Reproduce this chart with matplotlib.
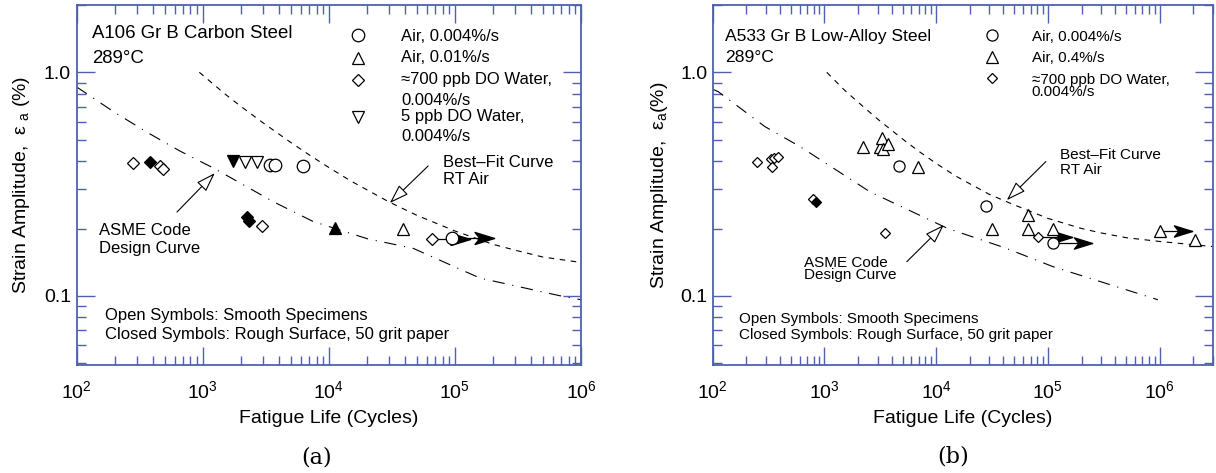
import matplotlib
matplotlib.use("Agg")
import matplotlib.pyplot as plt
from matplotlib.path import Path
from matplotlib.ticker import FixedLocator, FixedFormatter, LogLocator, NullFormatter

plt.rcParams["font.family"] = ["Liberation Sans", "DejaVu Sans"]
plt.rcParams["mathtext.fontset"] = "custom"
plt.rcParams["mathtext.rm"] = "Liberation Sans"
plt.rcParams["mathtext.it"] = "Liberation Sans:italic"

AXIS_BLUE = "#4f60b4"

# ---------------- (a) A106 Gr B carbon steel, 289C ----------------
a_air_slow_n = [3420, 3740, 6240, 94800]
a_air_slow_e = [0.385, 0.385, 0.381, 0.182]
a_air_fast_n = [39000]
a_air_fast_e = [0.200]
a_air_fast_rough_n = [11200]
a_air_fast_rough_e = [0.202]
a_do700_n = [280, 458, 484, 2960, 65800]
a_do700_e = [0.393, 0.381, 0.370, 0.206, 0.180]
a_do700_rough_n = [382, 2240, 2330]
a_do700_rough_e = [0.397, 0.226, 0.217]
a_do5_n = [2160, 2690]
a_do5_e = [0.397, 0.397]
a_do5_rough_n = [1740]
a_do5_rough_e = [0.400]
# run-outs: start life, life at arrow tip, strain
a_runout_start = [65800, 94800]
a_runout_end = [132000, 204000]
a_runout_e = [0.180, 0.182]

a_fit_n = [940, 1500, 2000, 3000, 5000, 7000, 1e4, 1.5e4, 3e4, 5e4, 1e5, 2e5, 3e5, 5e5, 1e6]
a_fit_e = [1.0, 0.80, 0.705, 0.595, 0.485, 0.427, 0.375, 0.326, 0.263, 0.229, 0.195,
           0.170, 0.160, 0.149, 0.141]
a_asme_n = [100, 195, 362, 661, 1250, 3610, 7500, 20200, 46700, 158000, 682000, 1e6]
a_asme_e = [0.86, 0.668, 0.539, 0.444, 0.370, 0.264, 0.215, 0.180, 0.163, 0.120, 0.100, 0.096]

# ---------------- (b) A533 Gr B low-alloy steel, 289C ----------------
b_air_slow_n = [4620, 28100, 111000]
b_air_slow_e = [0.382, 0.253, 0.173]
b_air_fast_n = [2210, 3170, 3262, 3336, 3715, 6870, 31300, 66500, 66500, 111000, 1.0e6, 2.07e6]
b_air_fast_e = [0.465, 0.465, 0.510, 0.452, 0.478, 0.378, 0.200, 0.230, 0.200, 0.200, 0.194, 0.178]
b_do700_n = [247, 330, 354, 381, 342, 785, 3450, 81500]
b_do700_e = [0.398, 0.408, 0.412, 0.417, 0.378, 0.270, 0.190, 0.183]
b_do700_rough_n = [843]
b_do700_rough_e = [0.264]
b_runout_start = [81500, 111000, 1.0e6]
b_runout_end = [164000, 247000, 1.95e6]
b_runout_e = [0.183, 0.173, 0.194]

b_fit_n = [1050, 1500, 2000, 3000, 5000, 7000, 1e4, 1.5e4, 3e4, 5e4, 1e5, 2e5, 3e5, 5e5, 1e6, 3e6]
b_fit_e = [1.0, 0.835, 0.735, 0.617, 0.503, 0.443, 0.391, 0.343, 0.284, 0.255, 0.222,
           0.200, 0.191, 0.182, 0.175, 0.166]
b_asme_n = [100, 112, 294, 605, 2550, 12700, 41100, 111000, 964000]
b_asme_e = [0.84, 0.819, 0.571, 0.465, 0.292, 0.200, 0.164, 0.135, 0.096]

# filled "stealth" head used for run-out arrows (tip at the data point)
stealth = Path([(0, 0), (-2, 0.62), (-1.5, 0), (-2, -0.62), (0, 0)],
               [Path.MOVETO, Path.LINETO, Path.LINETO, Path.LINETO, Path.CLOSEPOLY])

fig = plt.figure(figsize=(12.16, 4.73), dpi=100)
ax_a = fig.add_axes([0.063, 0.2283, 0.4148, 0.7611])
ax_b = fig.add_axes([0.5861, 0.2283, 0.4114, 0.7611])


def style_axes(ax, xmax):
    ax.set_xscale("log")
    ax.set_yscale("log")
    ax.set_xlim(1e2, xmax)
    ax.set_ylim(0.049, 2.0)
    ax.xaxis.set_major_locator(LogLocator(base=10))
    ax.xaxis.set_minor_locator(LogLocator(base=10, subs=range(2, 10), numticks=20))
    ax.xaxis.set_minor_formatter(NullFormatter())
    ax.yaxis.set_major_locator(FixedLocator([0.1, 1.0]))
    ax.yaxis.set_major_formatter(FixedFormatter(["0.1", "1.0"]))
    ax.yaxis.set_minor_locator(FixedLocator([0.05, 0.06, 0.07, 0.08, 0.09, 0.2, 0.3, 0.4,
                                             0.5, 0.6, 0.7, 0.8, 0.9, 2.0]))
    ax.yaxis.set_minor_formatter(NullFormatter())
    ax.tick_params(which="both", direction="in", top=True, right=True,
                   color=AXIS_BLUE, labelsize=14)
    ax.tick_params(which="major", length=13, width=1.0)
    ax.tick_params(which="minor", length=6.5, width=1.0)
    ax.tick_params(axis="x", pad=11)
    ax.tick_params(axis="y", pad=4)
    for sp in ax.spines.values():
        sp.set_color(AXIS_BLUE)
        sp.set_linewidth(1.3)
    ax.set_xlabel("Fatigue Life (Cycles)", fontsize=14)
    ax.xaxis.set_label_coords(0.5, -0.125)


def lines_text(ax, x, y, lines, step, size):
    for i, s in enumerate(lines):
        ax.text(x, y - i * step, s, transform=ax.transAxes, fontsize=size, va="baseline")


def open_pts(ax, n, e, marker, ms):
    ax.plot(n, e, ls="none", marker=marker, ms=ms, mfc="white", mec="black", mew=0.9)


def filled_pts(ax, n, e, marker, ms):
    ax.plot(n, e, ls="none", marker=marker, ms=ms, mfc="black", mec="black", mew=0.9)


def runouts(ax, n0, n1, e, head):
    for a, b, y in zip(n0, n1, e):
        ax.plot([a, b], [y, y], color="black", lw=0.9)
        ax.plot([b], [y], ls="none", marker=stealth, ms=head, color="black")


def pointer(ax, start, tip):
    ax.annotate("", xy=tip, xytext=start, xycoords="axes fraction",
                textcoords="axes fraction",
                arrowprops=dict(arrowstyle="-|>,head_length=1.2,head_width=0.4",
                                fc="white", ec="black", lw=0.8, mutation_scale=10,
                                shrinkA=0, shrinkB=0))


# ---- panel (a) ----
style_axes(ax_a, 1e6)
ax_a.plot(a_fit_n, a_fit_e, color="black", lw=0.8, dashes=(5, 5))
ax_a.plot(a_asme_n, a_asme_e, color="black", lw=0.8, dashes=(11, 7, 1, 7))
runouts(ax_a, a_runout_start, a_runout_end, a_runout_e, 28)
open_pts(ax_a, a_air_slow_n, a_air_slow_e, "o", 9)
open_pts(ax_a, a_air_fast_n, a_air_fast_e, "^", 9)
filled_pts(ax_a, a_air_fast_rough_n, a_air_fast_rough_e, "^", 9)
open_pts(ax_a, a_do700_n, a_do700_e, "D", 6)
filled_pts(ax_a, a_do700_rough_n, a_do700_rough_e, "D", 6)
open_pts(ax_a, a_do5_n, a_do5_e, "v", 9)
filled_pts(ax_a, a_do5_rough_n, a_do5_rough_e, "v", 9)

lines_text(ax_a, 0.030, 0.907, ["A106 Gr B Carbon Steel", "289°C"], 0.069, 13.4)
leg_a = [("o", 9, 0.917, 0.901, ["Air, 0.004%/s"]),
         ("^", 9, 0.853, 0.841, ["Air, 0.01%/s"]),
         ("D", 6, 0.792, 0.781, ["≈700 ppb DO Water,", "0.004%/s"]),
         ("v", 9, 0.690, 0.679, ["5 ppb DO Water,", "0.004%/s"])]
for mk, ms, ym, yt, txt in leg_a:
    ax_a.plot([0.558], [ym], transform=ax_a.transAxes, marker=mk, ms=ms, mfc="white",
              mec="black", mew=0.9, clip_on=False)
    lines_text(ax_a, 0.643, yt, txt, 0.058, 12)
lines_text(ax_a, 0.726, 0.551, ["Best–Fit Curve", "RT Air"], 0.047, 12)
pointer(ax_a, (0.697, 0.553), (0.621, 0.450))
lines_text(ax_a, 0.044, 0.360, ["ASME Code", "Design Curve"], 0.050, 12)
pointer(ax_a, (0.199, 0.425), (0.274, 0.533))
lines_text(ax_a, 0.056, 0.124, ["Open Symbols: Smooth Specimens",
                                "Closed Symbols: Rough Surface, 50 grit paper"], 0.051, 12)
ax_a.set_ylabel("Strain Amplitude,  ε $_{\\rm a}$ (%)", fontsize=14)
ax_a.yaxis.set_label_coords(-0.088, 0.5)

# ---- panel (b) ----
style_axes(ax_b, 3e6)
ax_b.plot(b_fit_n, b_fit_e, color="black", lw=0.8, dashes=(5, 5))
ax_b.plot(b_asme_n, b_asme_e, color="black", lw=0.8, dashes=(11, 7, 1, 7))
runouts(ax_b, b_runout_start, b_runout_end, b_runout_e, 26)
open_pts(ax_b, b_air_slow_n, b_air_slow_e, "o", 8)
open_pts(ax_b, b_air_fast_n, b_air_fast_e, "^", 8)
open_pts(ax_b, b_do700_n, b_do700_e, "D", 5.3)
filled_pts(ax_b, b_do700_rough_n, b_do700_rough_e, "D", 5.3)

lines_text(ax_b, 0.025, 0.901, ["A533 Gr B Low-Alloy Steel", "289°C"], 0.060, 12.6)
leg_b = [("o", 8, 0.917, 0.901, ["Air, 0.004%/s"]),
         ("^", 8, 0.856, 0.841, ["Air, 0.4%/s"]),
         ("D", 5.3, 0.796, 0.781, ["≈700 ppb DO Water,", "0.004%/s"])]
for mk, ms, ym, yt, txt in leg_b:
    ax_b.plot([0.559], [ym], transform=ax_b.transAxes, marker=mk, ms=ms, mfc="white",
              mec="black", mew=0.9, clip_on=False)
    lines_text(ax_b, 0.638, yt, txt, 0.034, 11)
lines_text(ax_b, 0.694, 0.573, ["Best–Fit Curve", "RT Air"], 0.042, 11)
pointer(ax_b, (0.666, 0.565), (0.588, 0.458))
lines_text(ax_b, 0.182, 0.273, ["ASME Code", "Design Curve"], 0.035, 11)
pointer(ax_b, (0.388, 0.287), (0.462, 0.389))
lines_text(ax_b, 0.052, 0.118, ["Open Symbols: Smooth Specimens",
                                "Closed Symbols: Rough Surface, 50 grit paper"], 0.045, 11)
ax_b.set_ylabel("Strain Amplitude,  ε$_{\\rm a}$(%)", fontsize=14)
ax_b.yaxis.set_label_coords(-0.085, 0.5)

fig.text(0.260, 0.032, "(a)", fontsize=16, family="DejaVu Serif", ha="center", va="center")
fig.text(0.784, 0.034, "(b)", fontsize=16, family="DejaVu Serif", ha="center", va="center")

fig.savefig("out.png", dpi=100)
